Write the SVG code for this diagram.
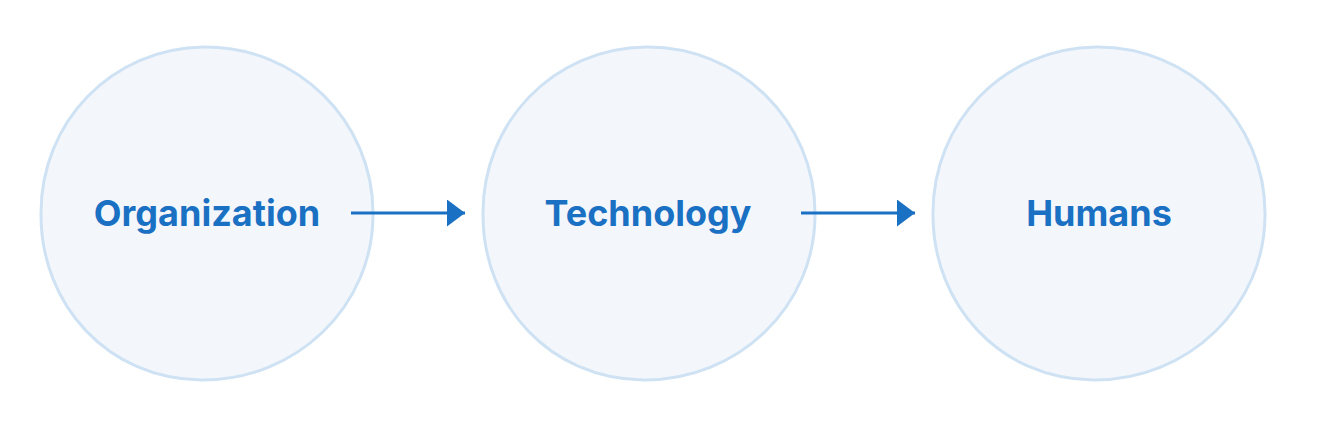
<svg xmlns="http://www.w3.org/2000/svg" width="1320" height="432" viewBox="0 0 1320 432">
  <defs>
    <style>
      .node-shape { fill: #f3f7fc; stroke: #cfe2f3; stroke-width: 3; }
      .label { font-family: Inter, "Noto Sans", "Liberation Sans", sans-serif; font-weight: 700; font-size: 36px; fill: #1a70c2; text-anchor: middle; }
      .edge { stroke: #1a70c2; stroke-width: 3; fill: none; }
    </style>
    <marker id="arrow" viewBox="0 0 18 27" refX="18" refY="13.5" markerWidth="18" markerHeight="27" markerUnits="userSpaceOnUse" orient="auto">
      <path d="M0,0 L18,13.5 L0,27 Z" fill="#1a70c2"/>
    </marker>
  </defs>
  <rect width="1320" height="432" fill="#ffffff"/>
  <g id="node-organization">
    <path class="node-shape" d="M204,47 C297,46 373,121 373,213 C374,306 296,381 201,380 C108,379 41,305 41,215 C40,122 112,48 204,47 Z"/>
    <text class="label" x="207" y="226">Organization</text>
  </g>
  <g id="node-technology">
    <path class="node-shape" d="M646,47 C739,46 815,121 815,213 C816,306 738,381 643,380 C550,379 483,305 483,215 C482,122 554,48 646,47 Z"/>
    <text class="label" x="648" y="226">Technology</text>
  </g>
  <g id="node-humans">
    <path class="node-shape" d="M1096,47 C1189,46 1265,121 1265,213 C1266,306 1188,381 1093,380 C1000,379 933,305 933,215 C932,122 1004,48 1096,47 Z"/>
    <text class="label" x="1099" y="226">Humans</text>
  </g>
  <g id="connectors">
    <line class="edge" x1="351" y1="213" x2="465" y2="213" marker-end="url(#arrow)"/>
    <line class="edge" x1="801" y1="213" x2="915" y2="213" marker-end="url(#arrow)"/>
  </g>
</svg>
